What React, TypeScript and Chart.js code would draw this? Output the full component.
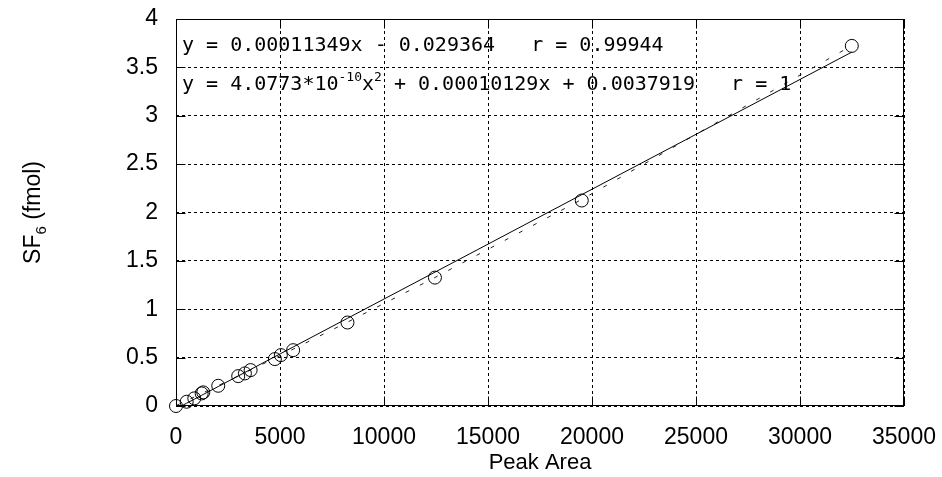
import React, { useEffect, useRef } from "react";
import { Chart, registerables } from "chart.js";
Chart.register(...registerables);

// Measured data (Peak Area vs SF6 amount)
const peakArea = [0, 514, 879, 1234, 1311, 2031, 2991, 3313, 3587, 4753, 5041, 5632, 8244, 12449, 19508, 32490];
const sf6Fmol = [0, 0.044, 0.079, 0.13, 0.141, 0.209, 0.309, 0.337, 0.371, 0.485, 0.526, 0.577, 0.863, 1.327, 2.124, 3.722];

// Fit coefficients shown on the chart
const linearCoef = [0.00011349, -0.029364]; // slope, intercept
const quadCoef = [4.0773e-10, 0.00010129, 0.0037919]; // a, b, c

const xAxisTitle = "Peak Area";
const yAxisTitleMain = "SF";
const yAxisTitleSub = "6";
const yAxisTitleRest = " (fmol)";
const eqLine1 = "y = 0.00011349x - 0.029364   r = 0.99944";
const eqLine2Parts = ["y = 4.0773*10", "-10", "x", "2", " + 0.00010129x + 0.0037919   r = 1"];

const fitX = [0, ...peakArea.slice(1)];
const linearFit = fitX.map((x) => ({ x, y: linearCoef[0] * x + linearCoef[1] }));
const quadFit = fitX.map((x) => ({ x, y: quadCoef[0] * x * x + quadCoef[1] * x + quadCoef[2] }));

const TICK_FONT = '"Liberation Sans", Arial, sans-serif';
const MONO = '"DejaVu Sans Mono", monospace';

const decorPlugin = {
  id: "decor",
  afterDraw(chart: any) {
    const { ctx, chartArea: a, scales } = chart;
    const xs = scales.x;
    const ys = scales.y;
    ctx.save();
    ctx.strokeStyle = "#000";
    ctx.lineWidth = 1;
    ctx.setLineDash([]);
    const L = Math.round(a.left) + 0.5;
    const R = Math.round(a.right) - 0.5;
    const T = Math.round(a.top) + 0.5;
    const B = Math.round(a.bottom) - 0.5;
    ctx.strokeRect(L, T, R - L, B - T);
    const tl = 9;
    ctx.beginPath();
    xs.ticks.forEach((t: any) => {
      const px = Math.round(xs.getPixelForValue(t.value)) + 0.5;
      ctx.moveTo(px, B);
      ctx.lineTo(px, B - tl);
      ctx.moveTo(px, T);
      ctx.lineTo(px, T + tl);
    });
    ys.ticks.forEach((t: any) => {
      const py = Math.round(ys.getPixelForValue(t.value)) + 0.5;
      ctx.moveTo(L, py);
      ctx.lineTo(L + tl, py);
      ctx.moveTo(R, py);
      ctx.lineTo(R - tl, py);
    });
    ctx.stroke();

    // Equations
    ctx.fillStyle = "#000";
    ctx.textAlign = "left";
    ctx.textBaseline = "alphabetic";
    ctx.font = `20px ${MONO}`;
    const ex = a.left + 6;
    ctx.fillText(eqLine1, ex, a.top + 32);
    let cx = ex;
    const b2 = a.top + 71;
    eqLine2Parts.forEach((p, i) => {
      const sup = i === 1 || i === 3;
      ctx.font = sup ? `13px ${MONO}` : `20px ${MONO}`;
      ctx.fillText(p, cx, sup ? b2 - 9 : b2);
      cx += ctx.measureText(p).width;
    });

    // X title
    ctx.font = `22px ${TICK_FONT}`;
    ctx.textAlign = "center";
    ctx.fillText(xAxisTitle, (a.left + a.right) / 2, 469);

    // Y title (rotated, with subscript)
    ctx.save();
    ctx.translate(40, (a.top + a.bottom) / 2);
    ctx.rotate(-Math.PI / 2);
    ctx.textAlign = "left";
    const mainF = `23px ${TICK_FONT}`;
    const subF = `15px ${TICK_FONT}`;
    ctx.font = mainF;
    const w1 = ctx.measureText(yAxisTitleMain).width;
    const w3 = ctx.measureText(yAxisTitleRest).width;
    ctx.font = subF;
    const w2 = ctx.measureText(yAxisTitleSub).width;
    let sx = -(w1 + w2 + w3) / 2;
    ctx.font = mainF;
    ctx.fillText(yAxisTitleMain, sx, 0);
    sx += w1;
    ctx.font = subF;
    ctx.fillText(yAxisTitleSub, sx, 6);
    sx += w2;
    ctx.font = mainF;
    ctx.fillText(yAxisTitleRest, sx, 0);
    ctx.restore();

    ctx.restore();
  },
};

export default function App() {
  const ref = useRef<HTMLCanvasElement>(null);
  useEffect(() => {
    document.body.style.margin = "0";
    const chart = new Chart(ref.current!, {
      type: "scatter",
      data: {
        datasets: [
          {
            type: "line",
            label: "linear",
            data: linearFit,
            borderColor: "#000",
            borderWidth: 1,
            pointRadius: 0,
            fill: false,
            order: 2,
          } as any,
          {
            type: "line",
            label: "quadratic",
            data: quadFit,
            borderColor: "#222",
            borderWidth: 1,
            borderDash: [4, 12],
            pointRadius: 0,
            fill: false,
            order: 3,
          } as any,
          {
            label: "data",
            data: peakArea.map((x, i) => ({ x, y: sf6Fmol[i] })),
            pointStyle: "circle",
            pointRadius: 6.5,
            pointBorderWidth: 1,
            pointBackgroundColor: "rgba(0,0,0,0)",
            pointBorderColor: "#000",
            clip: 10,
            order: 1,
          } as any,
        ],
      },
      options: {
        animation: false,
        responsive: true,
        maintainAspectRatio: false,
        devicePixelRatio: 1,
        layout: { padding: { left: 0, top: 19, right: 38, bottom: 0 } },
        plugins: { legend: { display: false }, tooltip: { enabled: false } },
        scales: {
          x: {
            type: "linear",
            min: 0,
            max: 35000,
            ticks: {
              stepSize: 5000,
              color: "#000",
              font: { family: TICK_FONT, size: 23 },
              padding: 18,
              maxRotation: 0,
              callback: (v: any) => String(v),
            },
            grid: { color: "#000", lineWidth: 1, drawTicks: false },
            border: { display: false, dash: [3, 3] },
            afterFit: (s: any) => {
              s.height = 71;
              s.paddingLeft = 0;
              s.paddingRight = 0;
            },
          },
          y: {
            type: "linear",
            min: 0,
            max: 4,
            ticks: {
              stepSize: 0.5,
              color: "#000",
              font: { family: TICK_FONT, size: 23 },
              padding: 18,
              callback: (v: any) => String(v),
            },
            grid: { color: "#000", lineWidth: 1, drawTicks: false },
            border: { display: false, dash: [3, 3] },
            afterFit: (s: any) => {
              s.width = 176;
              s.paddingTop = 0;
              s.paddingBottom = 0;
            },
          },
        },
      },
      plugins: [decorPlugin],
    });
    return () => chart.destroy();
  }, []);
  return (
    <div style={{ position: "absolute", left: 0, top: 0, width: 942, height: 477, background: "#fff" }}>
      <canvas ref={ref} />
    </div>
  );
}
